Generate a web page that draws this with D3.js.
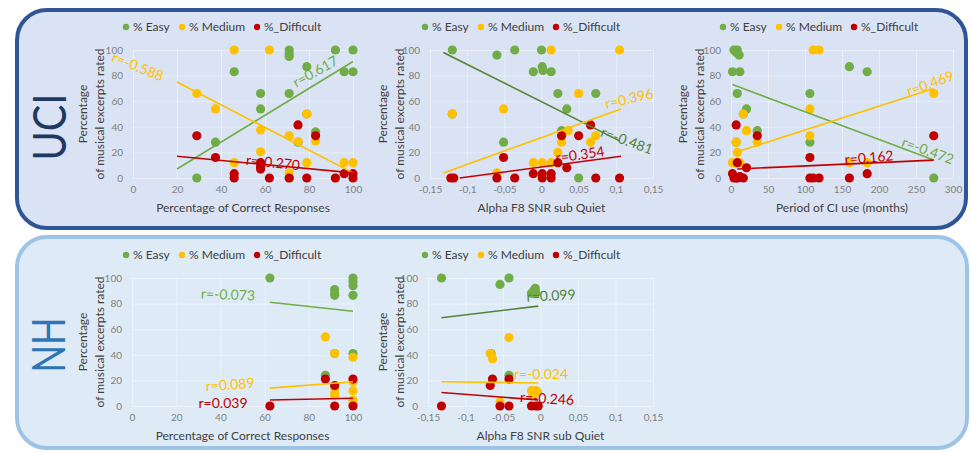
<!DOCTYPE html>
<html>
<head>
<meta charset="utf-8">
<script src="https://cdn.jsdelivr.net/npm/d3@7"></script>
<style>
    body { margin: 0; background: #fff; }
    svg { font-family: Lato, "Open Sans", sans-serif; }
</style>
</head>
<body>
<script>
"use strict";

// series shared by every panel
const seriesNames = ["% Easy", "% Medium", "%_Difficult"];

// tick labels
const pctTicks = [0, 20, 40, 60, 80, 100];
const snrTicks = [-0.15, -0.1, -0.05, 0, 0.05, 0.1, 0.15];
const ciTicks = [0, 50, 100, 150, 200, 250, 300];
const yTicks = [0, 20, 40, 60, 80, 100];

// UCI - percentage of correct responses
const uciPctEasy = [[29, 0], [37.5, 28], [46, 83], [58, 66], [58, 54], [71, 100], [71, 97], [71, 95], [71, 66],
    [75, 28], [79, 87], [79, 50], [83, 36], [92, 100], [96, 83], [100, 100], [100, 83], [71, 0]];
const uciPctMedium = [[46, 100], [62, 100], [29, 66], [37.5, 54], [46, 12], [58, 37.5], [58, 20.5], [71, 33], [71, 4],
    [75, 28.5], [79, 50], [79, 12], [83, 29], [96, 12], [100, 12], [92, 0]];
const uciPctDifficult = [[29, 33], [37.5, 16], [46, 3.4], [46, 0], [58, 12], [58, 9], [58, 7], [62, 0], [71, 0],
    [75, 41.5], [79, 0], [83, 33], [92, 0], [96, 3.4], [100, 3.4], [100, 0]];
const uciPctTrends = [[20, 7, 100, 91], [20, 75, 100, 4], [20, 17, 100, 4]];
const uciPctR = ["r=0.617", "r=-0.588", "r=-0.270"];

// UCI - alpha F8 SNR sub quiet
const uciSnrEasy = [[-0.12, 100], [-0.06, 96], [-0.036, 100], [0, 100], [-0.011, 83], [0.001, 87], [0.002, 84],
    [0.013, 83], [0.022, 66], [0.073, 66], [0.034, 54], [0.027, 37], [-0.051, 28], [0.05, 0], [-0.12, 50]];
const uciSnrMedium = [[0.013, 100], [0.105, 100], [0.05, 66], [-0.12, 50], [-0.051, 54], [0.036, 37], [0.027, 28],
    [0.066, 28], [0.073, 33], [-0.011, 12], [0.001, 12], [0.013, 12], [0.022, 20], [-0.06, 4]];
const uciSnrDifficult = [[-0.122, 0], [-0.118, 0], [-0.06, 0], [-0.036, 0], [-0.051, 16], [-0.011, 3.4], [0.001, 3.4],
    [0.001, 0], [0.013, 3.4], [0.013, 0], [0.022, 12], [0.027, 33], [0.034, 8], [0.05, 33], [0.066, 41.5],
    [0.073, 0], [0.105, 0]];
const uciSnrTrends = [[-0.132, 98, 0.105, 29], [-0.132, 4, 0.107, 54], [-0.11, 0, 0.107, 17]];
const uciSnrR = ["r=-0.481", "r=0.396", "r=0.354"];

// UCI - period of CI use
const uciCiEasy = [[4, 100], [8.5, 100], [7, 98], [11, 96], [2, 83], [12, 83], [8.5, 66], [21, 54], [35.5, 37],
    [106.6, 66], [106.6, 28], [160, 87], [184, 83], [274, 0], [7, 28], [16.6, 50]];
const uciCiMedium = [[111, 100], [119, 100], [274, 66], [106.6, 54], [106.6, 33], [16.6, 50], [21, 37], [35.5, 28],
    [7, 28], [8.5, 20], [2, 12], [12, 12], [160, 12], [184, 12]];
const uciCiDifficult = [[7, 41.5], [8.5, 12], [21, 8], [35.5, 33], [106.6, 16], [106.6, 0], [111, 0], [119, 0],
    [160, 0], [184, 3.4], [274, 33], [2, 3.4], [4, 0], [8.5, 0], [12, 1], [16.6, 0], [7, 0]];
const uciCiTrends = [[2, 73, 274, 14], [8.5, 20.5, 274, 70], [8.5, 7, 274, 14]];
const uciCiR = ["r=-0.472", "r=0.469", "r=0.162"];

// NH - percentage of correct responses
const nhPctEasy = [[62.4, 100], [91.7, 91], [91.7, 88], [91.7, 86.5], [100, 100], [100, 97], [100, 94], [100, 86.5],
    [87.5, 24], [100, 41], [91.7, 41]];
const nhPctMedium = [[87.5, 54], [91.7, 41], [100, 38], [91.7, 14], [91.7, 10], [91.7, 8.6], [100, 19], [100, 12],
    [100, 4.7], [100, 2]];
const nhPctDifficult = [[62.4, 0], [87.5, 21], [91.7, 16], [91.7, 0], [100, 21], [100, 0]];
const nhPctTrends = [[62.4, 81, 100, 74], [62.4, 14, 100, 19], [62.4, 4.7, 100, 6]];
const nhPctR = ["r=-0.073", "r=0.089", "r=0.039"];

// NH - alpha F8 SNR sub quiet
const nhSnrEasy = [[-0.132, 100], [-0.054, 95], [-0.042, 100], [-0.009, 90], [-0.007, 92], [-0.006, 88],
    [-0.012, 88], [-0.066, 41], [-0.042, 24]];
const nhSnrMedium = [[-0.042, 53.5], [-0.067, 41], [-0.064, 37], [-0.054, 3.4], [-0.012, 12], [-0.006, 12],
    [-0.004, 11], [-0.01, 8.6]];
const nhSnrDifficult = [[-0.132, 0], [-0.067, 16], [-0.064, 21], [-0.042, 21], [-0.054, 0], [-0.042, 0],
    [-0.012, 0], [-0.006, 0], [-0.003, 0]];
const nhSnrTrends = [[-0.132, 69, -0.003, 78], [-0.132, 19, -0.003, 18], [-0.132, 10.6, -0.003, 4.7]];
const nhSnrR = ["r=0.099", "r=-0.024", "r=-0.246"];

const COLORS = ["#70AD47", "#FFC000", "#C00000"];
const DARK_GREEN = "#548235";
const W = 971, H = 452;

const pctFmt = d => String(d);
const snrFmt = d => String(+d.toFixed(2)).replace(".", ",");

// layout of every panel: pixel ranges and where the r= labels sit [cx, cy, angle]
const panels = [
    {
        xRange: [133, 353], yRange: [178, 50], domain: [0, 100], ticks: pctTicks, fmt: pctFmt,
        series: [uciPctEasy, uciPctMedium, uciPctDifficult], trends: uciPctTrends, r: uciPctR,
        title: "Percentage of Correct Responses", legendX: 126, yTitleX: 83,
        green: COLORS[0], labels: [[315, 71, -29], [138, 66, 22], [273, 162, 6]]
    },
    {
        xRange: [430, 653], yRange: [178, 50], domain: [-0.15, 0.15], ticks: snrTicks, fmt: snrFmt,
        series: [uciSnrEasy, uciSnrMedium, uciSnrDifficult], trends: uciSnrTrends, r: uciSnrR,
        title: "Alpha F8 SNR sub Quiet", legendX: 425, yTitleX: 383,
        green: DARK_GREEN, labels: [[627, 140, 20], [629, 98, -13], [580, 154, -8]]
    },
    {
        xRange: [731, 953], yRange: [178, 50], domain: [0, 300], ticks: ciTicks, fmt: pctFmt,
        series: [uciCiEasy, uciCiMedium, uciCiDifficult], trends: uciCiTrends, r: uciCiR,
        title: "Period of CI use (months)", legendX: 723, yTitleX: 683,
        green: COLORS[0], labels: [[928, 150, 20], [930, 83, -20], [869, 157, -5]]
    },
    {
        xRange: [132, 353], yRange: [406, 278], domain: [0, 100], ticks: pctTicks, fmt: pctFmt,
        series: [nhPctEasy, nhPctMedium, nhPctDifficult], trends: nhPctTrends, r: nhPctR,
        title: "Percentage of Correct Responses", legendX: 126, yTitleX: 83,
        green: COLORS[0], labels: [[228, 294, 2], [230, 384, -4], [223, 402, 0]]
    },
    {
        xRange: [428, 653], yRange: [406, 278], domain: [-0.15, 0.15], ticks: snrTicks, fmt: snrFmt,
        series: [nhSnrEasy, nhSnrMedium, nhSnrDifficult], trends: nhSnrTrends, r: nhSnrR,
        title: "Alpha F8 SNR sub Quiet", legendX: 425, yTitleX: 383,
        green: DARK_GREEN, labels: [[551, 295, -3], [541, 373, 0], [547, 398, 3]]
    }
];

const svg = d3.select("body").append("svg")
    .attr("width", W)
    .attr("height", H);

// group frames
svg.append("rect")
    .attr("x", 17).attr("y", 10).attr("width", 949).attr("height", 218)
    .attr("rx", 30)
    .attr("fill", "#DAE3F3")
    .attr("stroke", "#2F5597")
    .attr("stroke-width", 4);

svg.append("rect")
    .attr("x", 17).attr("y", 237).attr("width", 950).attr("height", 211)
    .attr("rx", 30)
    .attr("fill", "#DEEBF7")
    .attr("stroke", "#9DC3E6")
    .attr("stroke-width", 4);

svg.append("text")
    .attr("transform", "translate(48,127) rotate(-90)")
    .attr("text-anchor", "middle")
    .attr("dominant-baseline", "central")
    .attr("font-size", 46)
    .attr("textLength", 67)
    .attr("lengthAdjust", "spacingAndGlyphs")
    .attr("fill", "#1F3864")
    .text("UCI");

svg.append("text")
    .attr("transform", "translate(47,345) rotate(-90)")
    .attr("text-anchor", "middle")
    .attr("dominant-baseline", "central")
    .attr("font-size", 46)
    .attr("textLength", 55)
    .attr("lengthAdjust", "spacingAndGlyphs")
    .attr("fill", "#2E75B6")
    .text("NH");

panels.forEach(drawPanel);

function drawPanel(p) {
    const x = d3.scaleLinear().domain(p.domain).range(p.xRange);
    const y = d3.scaleLinear().domain([0, 100]).range(p.yRange);
    const top = p.yRange[1], bottom = p.yRange[0];
    const g = svg.append("g");

    // x axis with vertical gridlines
    const xAxis = g.append("g")
        .attr("transform", `translate(0,${bottom})`)
        .call(d3.axisBottom(x).tickValues(p.ticks).tickFormat(p.fmt)
            .tickSize(-(bottom - top)).tickPadding(8));

    const yAxis = g.append("g")
        .attr("transform", `translate(${p.xRange[0]},0)`)
        .call(d3.axisLeft(y).tickValues(yTicks)
            .tickSize(-(p.xRange[1] - p.xRange[0])).tickPadding(10));

    [xAxis, yAxis].forEach(a => {
        a.select(".domain").remove();
        a.selectAll(".tick line").attr("stroke", "#ffffff").attr("stroke-opacity", 0.4);
        a.selectAll(".tick text")
            .attr("fill", "#7f7f7f")
            .attr("font-size", 10)
            .attr("font-family", "Lato, sans-serif");
    });

    // axis titles
    g.append("text")
        .attr("x", (p.xRange[0] + p.xRange[1]) / 2)
        .attr("y", bottom + 34)
        .attr("text-anchor", "middle")
        .attr("font-size", 12)
        .attr("fill", "#404040")
        .text(p.title);

    const yt = g.append("text")
        .attr("transform", `translate(${p.yTitleX},${(top + bottom) / 2}) rotate(-90)`)
        .attr("text-anchor", "middle")
        .attr("font-size", 12)
        .attr("fill", "#404040");
    yt.append("tspan").attr("x", 0).attr("dy", "0.35em").text("Percentage");
    yt.append("tspan").attr("x", 0).attr("dy", "1.4em").text("of musical excerpts rated");

    // legend
    const legY = top - 23;
    const leg = g.append("g")
        .selectAll("g")
        .data(seriesNames)
        .join("g")
        .attr("transform", (d, i) => `translate(${p.legendX + [0, 56, 131][i]},${legY})`);
    leg.append("circle").attr("r", 3.2).attr("fill", (d, i) => COLORS[i]);
    leg.append("text")
        .attr("x", 7)
        .attr("dy", "0.35em")
        .attr("font-size", 12)
        .attr("fill", "#404040")
        .text(d => d);

    // points
    p.series.forEach((pts, i) => {
        g.append("g")
            .selectAll("circle")
            .data(pts)
            .join("circle")
            .attr("cx", d => x(d[0]))
            .attr("cy", d => y(d[1]))
            .attr("r", 4.6)
            .attr("fill", COLORS[i]);
    });

    // trend lines
    const lineColors = [p.green, COLORS[1], COLORS[2]];
    g.append("g")
        .selectAll("line")
        .data(p.trends)
        .join("line")
        .attr("x1", d => x(d[0]))
        .attr("y1", d => y(d[1]))
        .attr("x2", d => x(d[2]))
        .attr("y2", d => y(d[3]))
        .attr("stroke", (d, i) => lineColors[i])
        .attr("stroke-width", 1.6);

    // correlation labels
    g.append("g")
        .selectAll("text")
        .data(p.r)
        .join("text")
        .attr("transform", (d, i) => `translate(${p.labels[i][0]},${p.labels[i][1]}) rotate(${p.labels[i][2]})`)
        .attr("text-anchor", "middle")
        .attr("dominant-baseline", "central")
        .attr("font-size", 14)
        .attr("fill", (d, i) => lineColors[i])
        .text(d => d);
}
</script>
</body>
</html>
